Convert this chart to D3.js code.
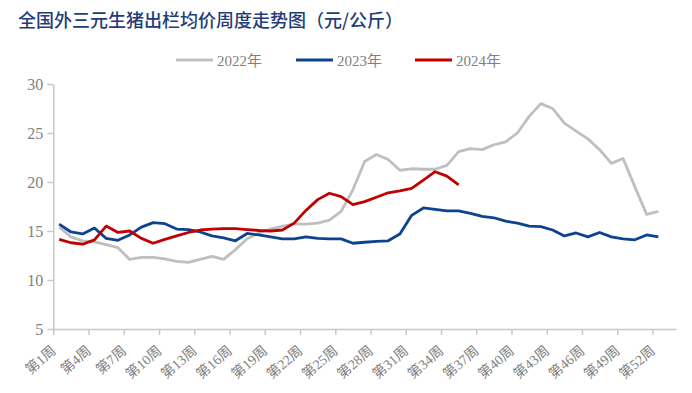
<!DOCTYPE html>
<html>
<head>
<meta charset="utf-8">
<script src="https://cdn.jsdelivr.net/npm/d3@7/dist/d3.min.js"></script>
<style>
  body { margin: 0; background: #fff; }
  svg { display: block; }
  .axis path, .axis line { stroke: #c8c8c8; stroke-width: 1.5; }
  .axis text { fill: #7f7f7f; font-family: "Liberation Serif", "Noto Sans CJK SC", serif; }
</style>
</head>
<body>
<div id="chart"></div>
<script>
// weekly prices, yuan/kg
const series2022 = [15.4, 14.4, 14.0, 13.9, 13.6, 13.3, 12.1, 12.3, 12.3, 12.15, 11.9, 11.8, 12.1, 12.4, 12.1,
  13.1, 14.2, 14.8, 15.2, 15.5, 15.7, 15.7, 15.8, 16.1, 17.0, 19.2, 22.1, 22.8, 22.3, 21.2,
  21.35, 21.3, 21.3, 21.7, 23.1, 23.4, 23.3, 23.8, 24.1, 25.0, 26.7, 28.0, 27.5, 26.0, 25.2,
  24.4, 23.3, 21.9, 22.4, 19.5, 16.7, 17.0];
const series2023 = [15.7, 14.9, 14.7, 15.3, 14.25, 14.05, 14.6, 15.4, 15.85, 15.75, 15.2, 15.15, 14.9, 14.5, 14.3,
  14.0, 14.75, 14.6, 14.4, 14.2, 14.2, 14.4, 14.25, 14.2, 14.2, 13.75, 13.85, 13.95, 14.0, 14.7,
  16.6, 17.35, 17.2, 17.05, 17.05, 16.8, 16.5, 16.35, 16.0, 15.8, 15.5, 15.45, 15.1, 14.5, 14.8,
  14.4, 14.85, 14.4, 14.2, 14.1, 14.6, 14.4];
const series2024 = [14.15, 13.8, 13.65, 14.1, 15.5, 14.85, 15.0, 14.25, 13.75, 14.15, 14.5, 14.85, 15.1, 15.2, 15.25,
  15.25, 15.15, 15.05, 15.0, 15.1, 15.8, 17.1, 18.2, 18.85, 18.5, 17.7, 18.0, 18.45, 18.9, 19.1,
  19.35, 20.2, 21.05, 20.6, 19.7];
const seriesNames = ['2022年', '2023年', '2024年'];
const seriesColors = ['#bfbfbf', '#0d4291', '#c00000'];
const weekCount = 53;
const tickWeeks = d3.range(1, 53, 3); // 第1周 ... 第52周
const yTicks = [5, 10, 15, 20, 25, 30];
const title = '全国外三元生猪出栏均价周度走势图（元/公斤）';

const W = 692, H = 393;
const svg = d3.select('#chart').append('svg').attr('width', W).attr('height', H);

svg.append('text').attr('x', 18).attr('y', 27)
  .attr('fill', '#1f3d7a').attr('font-size', 18).attr('font-weight', 500)
  .attr('font-family', '"Noto Sans CJK SC", sans-serif')
  .text(title);

const x = d3.scaleLinear().domain([0.5, weekCount + 0.5]).range([53.3, 676]);
const y = d3.scaleLinear().domain([5, 30]).range([329, 84]);

// y axis
const yAxis = svg.append('g').attr('class', 'axis').attr('transform', 'translate(53.3,0)')
  .call(d3.axisLeft(y).tickValues(yTicks).tickSize(6).tickSizeOuter(0).tickPadding(4));
yAxis.selectAll('text').attr('font-size', 16);

// x axis, ticks between weeks
const xAxis = svg.append('g').attr('class', 'axis').attr('transform', 'translate(0,329)')
  .call(d3.axisBottom(x).tickValues(tickWeeks.map(w => w - 0.5)).tickSize(6).tickSizeOuter(0)
    .tickFormat(d => '第' + (d + 0.5) + '周'));
xAxis.selectAll('text')
  .attr('font-size', 14).attr('text-anchor', 'end')
  .attr('x', 0).attr('y', 0).attr('dy', 0)
  .attr('transform', 'translate(3,23) rotate(-41)');

// lines
const line = d3.line().x((d, i) => x(i + 1)).y(d => y(d));
[series2022, series2023, series2024].forEach((s, k) => {
  svg.append('path').datum(s)
    .attr('fill', 'none').attr('stroke', seriesColors[k])
    .attr('stroke-width', 2.8).attr('stroke-linejoin', 'round')
    .attr('d', line);
});

// legend
const legendX = [176, 296, 415];
seriesNames.forEach((name, k) => {
  const g = svg.append('g').attr('transform', `translate(${legendX[k]},60)`);
  g.append('line').attr('x1', 0).attr('x2', 37).attr('stroke', seriesColors[k]).attr('stroke-width', 3);
  g.append('text').attr('x', 41).attr('y', 5.5).attr('fill', '#7f7f7f').attr('font-size', 15)
    .attr('font-family', '"Liberation Serif", "Noto Sans CJK SC", serif').text(name);
});
</script>
</body>
</html>
